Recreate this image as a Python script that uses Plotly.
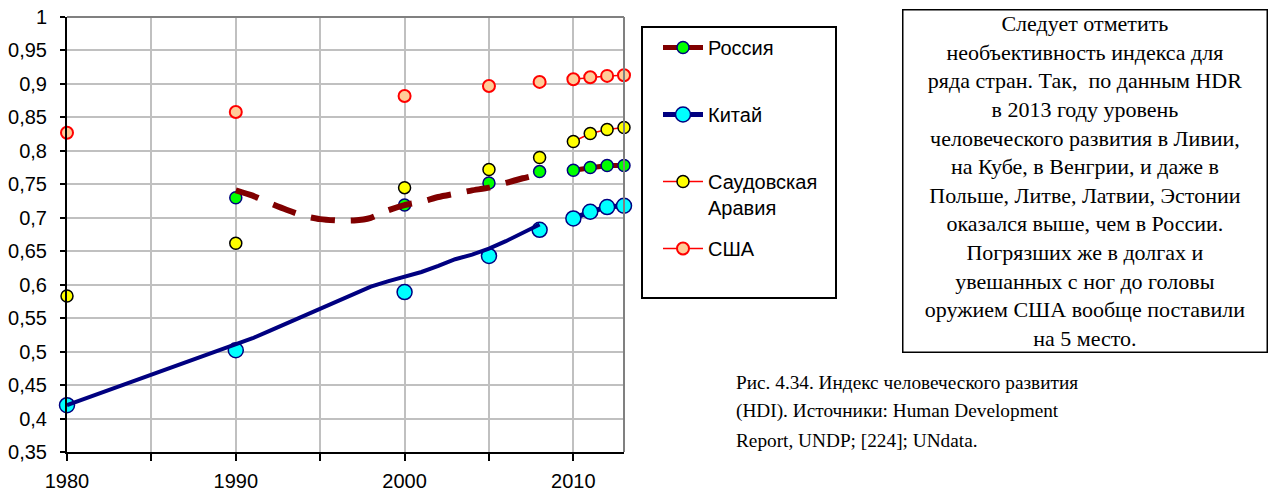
import plotly.graph_objects as go

# ---------------- data ----------------
years_pts = [1980, 1990, 2000, 2005, 2008, 2010, 2011, 2012, 2013]
russia_years = [1990, 2000, 2005, 2008, 2010, 2011, 2012, 2013]
russia_pts = [0.730, 0.719, 0.752, 0.769, 0.771, 0.775, 0.778, 0.778]
china_pts = [0.420, 0.502, 0.589, 0.643, 0.682, 0.699, 0.709, 0.716, 0.718]
saudi_pts = [0.583, 0.662, 0.745, 0.772, 0.790, 0.814, 0.826, 0.832, 0.835]
usa_pts = [0.827, 0.858, 0.882, 0.897, 0.903, 0.907, 0.910, 0.912, 0.913]

russia_line_years = list(range(1990, 2009))
russia_line = [0.741, 0.733, 0.722, 0.712, 0.703, 0.698, 0.696, 0.696, 0.700,
               0.711, 0.719, 0.724, 0.731, 0.736, 0.741, 0.745, 0.752, 0.759, 0.765]
china_line_years = list(range(1980, 2009))
china_line = [0.420, 0.429, 0.438, 0.447, 0.456, 0.466, 0.475, 0.484, 0.492, 0.501,
              0.510, 0.520, 0.531, 0.542, 0.553, 0.564, 0.575, 0.587, 0.597, 0.605,
              0.612, 0.619, 0.628, 0.638, 0.645, 0.654, 0.665, 0.677, 0.690]

y_tickvals = [0.35, 0.40, 0.45, 0.50, 0.55, 0.60, 0.65, 0.70, 0.75, 0.80, 0.85, 0.90, 0.95, 1.00]
y_ticktext = ["0,35", "0,4", "0,45", "0,5", "0,55", "0,6", "0,65", "0,7", "0,75",
              "0,8", "0,85", "0,9", "0,95", "1"]
x_tickvals = [1980, 1985, 1990, 1995, 2000, 2005, 2010]
x_ticktext = ["1980", "", "1990", "", "2000", "", "2010"]

series_names = ["Россия<br> ", "Китай<br> ", "Саудовская<br>Аравия", "США"]

note_text = ("Следует отметить<br>необъективность индекса для<br>ряда стран. Так,  по данным HDR<br>"
             "в 2013 году уровень<br>человеческого развития в Ливии,<br>на Кубе, в Венгрии, и даже в<br>"
             "Польше, Литве, Латвии, Эстонии<br>оказался выше, чем в России.<br>Погрязших же в долгах и<br>"
             "увешанных с ног до головы<br>оружием США вообще поставили<br>на 5 место.")
caption_lines = ["Рис. 4.34. Индекс человеческого развития",
                 "(HDI). Источники: Human Development",
                 "Report, UNDP; [224]; UNdata."]


def with_gaps(xs, ys):
    ox, oy = [], []
    prev = None
    for x, y in zip(xs, ys):
        if prev is not None and x - prev > 1:
            ox.append(None)
            oy.append(None)
        ox.append(x)
        oy.append(y)
        prev = x
    return ox, oy


W, H = 1271, 495
L, R, T, B = 67, 624, 17, 452          # plot area in screenshot pixels
pw, ph = R - L, B - T


def px(x):
    return (x - L) / pw


def py(y):
    return (B - y) / ph


SANS = "Arial, Liberation Sans, sans-serif"
SERIF = "Times New Roman, Liberation Serif, serif"

fig = go.Figure()

rx, ry = with_gaps(russia_years, russia_pts)
fig.add_trace(go.Scatter(x=rx, y=ry, name=series_names[0], mode="lines+markers",
                         legendgroup="r",
                         line=dict(color="#800000", width=5),
                         marker=dict(size=12, color="#00ff00", line=dict(color="#000080", width=1.5)),
                         cliponaxis=False))
cx, cy = with_gaps(years_pts, china_pts)
fig.add_trace(go.Scatter(x=cx, y=cy, name=series_names[1], mode="lines+markers",
                         legendgroup="c",
                         line=dict(color="#000080", width=5),
                         marker=dict(size=15, color="#00ffff", line=dict(color="#000080", width=1.5)),
                         cliponaxis=False))
sx, sy = with_gaps(years_pts, saudi_pts)
fig.add_trace(go.Scatter(x=sx, y=sy, name=series_names[2], mode="lines+markers",
                         legendgroup="s",
                         line=dict(color="#ff0000", width=1.5),
                         marker=dict(size=12, color="#ffff00", line=dict(color="#000000", width=1.5)),
                         cliponaxis=False))
ux, uy = with_gaps(years_pts, usa_pts)
fig.add_trace(go.Scatter(x=ux, y=uy, name=series_names[3], mode="lines+markers",
                         legendgroup="u",
                         line=dict(color="#ff0000", width=1.5),
                         marker=dict(size=12, color="#ffcc99", line=dict(color="#ff0000", width=2)),
                         cliponaxis=False))
fig.add_trace(go.Scatter(x=russia_line_years, y=russia_line, mode="lines", showlegend=False,
                         line=dict(color="#800000", width=6, dash="24px,16px", shape="spline", smoothing=0.6),
                         cliponaxis=False))
fig.add_trace(go.Scatter(x=china_line_years, y=china_line, mode="lines", showlegend=False,
                         line=dict(color="#000080", width=4),
                         cliponaxis=False))

annotations = [
    dict(text=note_text, xref="paper", yref="paper", x=px(1084.5), y=py(181),
         xanchor="center", yanchor="middle", showarrow=False, align="center",
         font=dict(family=SERIF, size=22, color="black"),
         bordercolor="black", borderwidth=1.5, borderpad=4, width=355, height=333,
         bgcolor="white"),
]
for i, line in enumerate(caption_lines):
    annotations.append(dict(text=line, xref="paper", yref="paper", x=px(734), y=py(382 + 29 * i),
                            xanchor="left", yanchor="middle", showarrow=False, align="left",
                            font=dict(family=SERIF, size=19.3, color="black")))

fig.update_layout(
    width=W, height=H,
    margin=dict(l=L, r=W - R, t=T, b=H - B, autoexpand=False),
    paper_bgcolor="white", plot_bgcolor="white",
    font=dict(family=SANS, size=20, color="black"),
    showlegend=True,
    legend=dict(x=px(658), y=py(28), xanchor="left", yanchor="top", valign="top",
                font=dict(size=20, family=SANS),
                bgcolor="rgba(0,0,0,0)", tracegroupgap=12, traceorder="grouped",
                itemwidth=40),
    xaxis=dict(range=[1980, 2013], tickvals=x_tickvals, ticktext=x_ticktext,
               showgrid=True, gridcolor="#c0c0c0", gridwidth=1.5,
               showline=True, linecolor="black", linewidth=2,
               ticks="outside", ticklen=7, tickwidth=1.5, tickcolor="black",
               ticklabelstandoff=3, ticklabeloverflow="allow", zeroline=False),
    yaxis=dict(range=[0.35, 1.0], tickvals=y_tickvals, ticktext=y_ticktext,
               showgrid=True, gridcolor="#c0c0c0", gridwidth=1.5,
               showline=True, linecolor="black", linewidth=2,
               ticks="outside", ticklen=5, tickwidth=1.5, tickcolor="black",
               ticklabelstandoff=9, ticklabeloverflow="allow", zeroline=False),
    shapes=[
        dict(type="line", xref="paper", yref="paper", x0=0, x1=1, y0=1, y1=1,
             line=dict(color="#808080", width=2)),
        dict(type="line", xref="paper", yref="paper", x0=1, x1=1, y0=0, y1=1,
             line=dict(color="#808080", width=2)),
        dict(type="rect", xref="paper", yref="paper", x0=px(642), x1=px(836), y0=py(298), y1=py(27),
             line=dict(color="black", width=2), fillcolor="rgba(0,0,0,0)"),
    ],
    annotations=annotations,
)

fig.write_html("out.html", config={"displayModeBar": False},
               post_script="document.body.style.margin='0';document.body.style.overflow='hidden';")
